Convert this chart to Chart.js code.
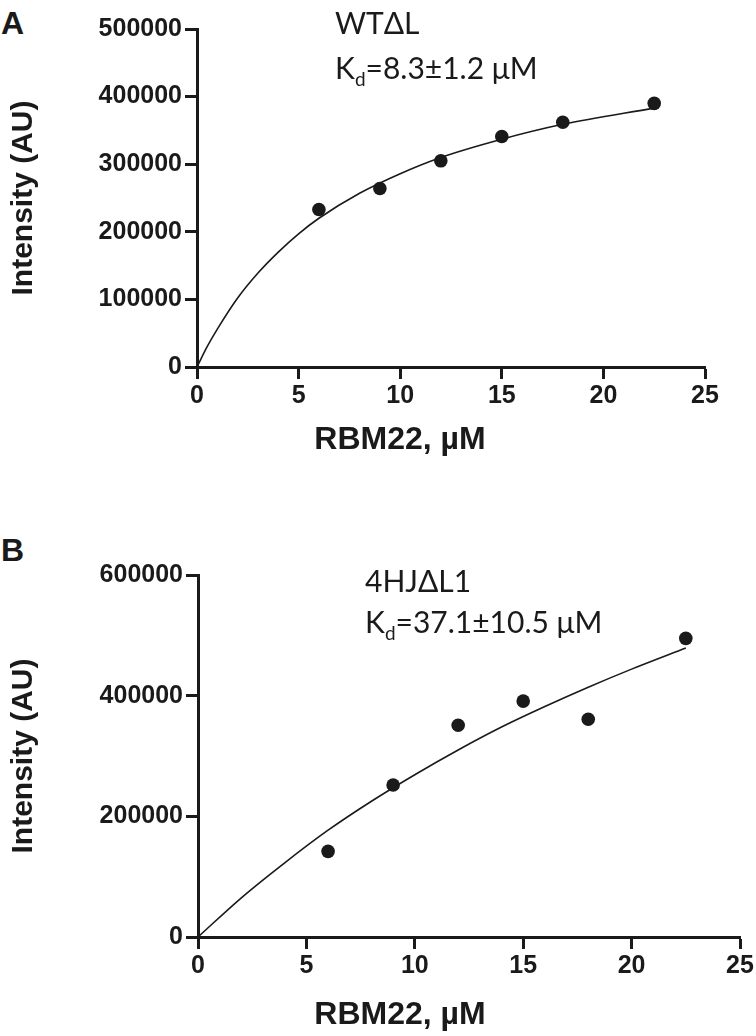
<!DOCTYPE html>
<html>
<head>
<meta charset="utf-8">
<title>RBM22 binding</title>
<script src="https://cdn.jsdelivr.net/npm/chart.js@4.4.1/dist/chart.umd.min.js"></script>
<style>
    body { margin: 0; background: #ffffff; }
    #page { position: relative; width: 756px; height: 1036px; overflow: hidden; }
    .panel { position: absolute; left: 0; width: 756px; }
    .letter { position: absolute; font-family: "Liberation Sans", Arial, sans-serif; font-weight: bold; font-size: 32px; color: #1a1a1a; }
    .note { position: absolute; font-family: Lato, "Open Sans", sans-serif; font-size: 30px; color: #1a1a1a; line-height: 1; white-space: nowrap; }
    .note sub { font-size: 19px; vertical-align: -7px; }
    .xtitle { position: absolute; left: 250px; width: 300px; text-align: center; line-height: 1;
              font-family: "Liberation Sans", Arial, sans-serif; font-weight: bold; font-size: 32px; color: #1a1a1a; }
</style>
</head>
<body>
<div id="page">
    <div class="letter" style="left:1px; top:5px;">A</div>
    <div class="letter" style="left:1px; top:532px;">B</div>

    <div class="panel" style="top:0; height:470px;"><canvas id="chartA"></canvas></div>
    <div class="panel" style="top:500px; height:536px;"><canvas id="chartB"></canvas></div>

    <div class="note" style="left:335px; top:7px;">WT&Delta;L</div>
    <div class="note" style="left:335px; top:52px;">K<sub>d</sub>=8.3&plusmn;1.2 &mu;M</div>
    <div class="note" style="left:365px; top:565px;">4HJ&Delta;L1</div>
    <div class="note" style="left:365px; top:606px;">K<sub>d</sub>=37.1&plusmn;10.5 &mu;M</div>

    <div class="xtitle" style="top:422px;">RBM22, &micro;M</div>
    <div class="xtitle" style="top:997px;">RBM22, &micro;M</div>
</div>

<script>
// Data
const concentration = [6, 9, 12, 15, 18, 22.5];          // RBM22, uM
const intensityA = [233000, 264000, 305000, 341000, 362000, 390000];   // WT dL
const intensityB = [142000, 252000, 351000, 391000, 361000, 495000];   // 4HJ dL1

// fitted binding curves
const fitConcA = [0, 0.5, 1, 2, 3, 4, 5, 6, 8, 10, 12, 15, 18, 22.5];
const fitA = [0, 30000, 56000, 102000, 139000, 170000, 197000, 220000, 257000, 286000, 310000, 337000, 359000, 383000];
const fitConcB = [0, 2, 4, 6, 8, 10, 12, 14, 16, 18, 20, 22.5];
const fitB = [0, 65000, 123000, 177000, 225000, 269000, 310000, 348000, 382000, 414000, 444000, 479000];

// axis ticks
const xTicks = [0, 5, 10, 15, 20, 25];
const yTicksA = [0, 100000, 200000, 300000, 400000, 500000];
const yTicksB = [0, 200000, 400000, 600000];

const ink = '#1a1a1a';
const boldSans = '"Liberation Sans", Arial, sans-serif';

function toPoints(xs, ys) {
    return xs.map((x, i) => ({ x: x, y: ys[i] }));
}

function makeChart(id, dots, fitX, fitY, yTicks, box) {
    const ctx = document.getElementById(id).getContext('2d');
    const yStep = yTicks[1] - yTicks[0];

    return new Chart(ctx, {
        type: 'scatter',
        data: {
            datasets: [{
                label: 'fit',
                data: toPoints(fitX, fitY),
                showLine: true,
                borderColor: ink,
                borderWidth: 1.6,
                pointRadius: 0,
                cubicInterpolationMode: 'monotone',
                fill: false
            }, {
                label: 'data',
                data: toPoints(concentration, dots),
                pointRadius: 6.8,
                pointBackgroundColor: ink,
                pointBorderWidth: 0
            }]
        },
        options: {
            responsive: true,
            maintainAspectRatio: false,
            animation: false,
            layout: { padding: { top: box.top, right: box.right, left: 0, bottom: 0 } },
            plugins: {
                legend: { display: false },
                tooltip: { enabled: false }
            },
            scales: {
                x: {
                    type: 'linear',
                    min: xTicks[0],
                    max: xTicks[xTicks.length - 1],
                    afterFit: (s) => { s.height = box.xHeight; },
                    ticks: {
                        stepSize: xTicks[1] - xTicks[0],
                        color: ink,
                        padding: 2,
                        maxRotation: 0,
                        font: { family: boldSans, size: 25, weight: 'bold' }
                    },
                    grid: { drawOnChartArea: false, drawTicks: true, tickLength: 12, tickWidth: 3, tickColor: ink },
                    border: { display: true, color: ink, width: 3 },
                    title: { display: false }
                },
                y: {
                    min: yTicks[0],
                    max: yTicks[yTicks.length - 1],
                    afterFit: (s) => { s.width = box.yWidth; },
                    ticks: {
                        stepSize: yStep,
                        color: ink,
                        padding: 3,
                        font: { family: boldSans, size: 25, weight: 'bold' },
                        callback: function(v) { return String(v); }
                    },
                    grid: { drawOnChartArea: false, drawTicks: true, tickLength: 12, tickWidth: 3, tickColor: ink },
                    border: { display: true, color: ink, width: 3 },
                    title: {
                        display: true,
                        text: 'Intensity (AU)',
                        color: ink,
                        font: { family: boldSans, size: 30, weight: 'bold' },
                        padding: { top: 6, bottom: 0 }
                    }
                }
            }
        }
    });
}

document.addEventListener('DOMContentLoaded', () => {
    // 1. Panel A - WT dL
    makeChart('chartA', intensityA, fitConcA, fitA, yTicksA,
        { top: 29, right: 51, yWidth: 197, xHeight: 103 });

    // 2. Panel B - 4HJ dL1
    makeChart('chartB', intensityB, fitConcB, fitB, yTicksB,
        { top: 75, right: 16, yWidth: 198, xHeight: 99 });
});
</script>
</body>
</html>
